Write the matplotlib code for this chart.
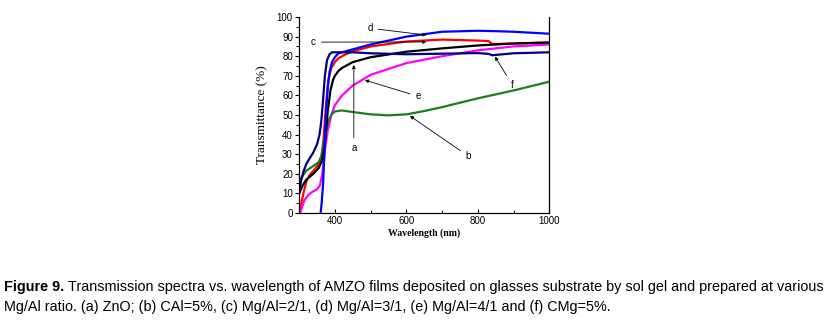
import matplotlib
matplotlib.use("Agg")
import matplotlib.pyplot as plt

plt.rcParams["font.family"] = ["Liberation Sans", "DejaVu Sans"]

# curves (wavelength nm, transmittance %)
a_wl = [300, 310, 320, 340, 355, 365, 372, 380, 388, 395, 400, 410, 420, 450, 500, 600, 700, 800, 900, 1000]
a_tr = [10, 14, 17, 20, 23, 27, 35, 52, 63, 68, 70, 72.5, 74, 77, 79.5, 82.3, 84, 85.5, 86.5, 87]

b_wl = [300, 310, 320, 340, 355, 362, 368, 375, 382, 390, 400, 420, 450, 500, 550, 600, 650, 700, 800, 900, 1000]
b_tr = [16, 19, 21.5, 24, 26, 29, 35, 42, 47, 50, 51.8, 52.3, 51.5, 50.3, 49.8, 50.3, 52, 54, 58.5, 62.5, 67]

c_wl = [300, 305, 312, 320, 330, 340, 355, 362, 368, 375, 382, 390, 400, 410, 430, 450, 500, 600, 700, 800, 830, 840, 900, 1000]
c_tr = [0, 4, 10, 16, 19.5, 21.5, 25, 28, 37, 55, 68, 74, 77, 79, 81, 82.5, 85, 87.5, 88.5, 88, 87.7, 86.2, 86.5, 87]

d_wl = [360, 363, 367, 371, 375, 380, 385, 392, 400, 410, 430, 450, 500, 600, 700, 800, 850, 900, 1000]
d_tr = [0, 5, 15, 32, 50, 64, 72, 77, 79.5, 81.5, 82.5, 83.5, 86, 90, 92.5, 93, 92.8, 92.5, 91.5]

e_wl = [303, 308, 315, 325, 335, 350, 358, 365, 372, 380, 390, 400, 420, 450, 500, 600, 700, 800, 900, 1000]
e_tr = [0, 3, 6.5, 9, 10.5, 12, 14, 20, 32, 42, 50, 55, 60, 65, 70.5, 76.5, 80, 83, 85, 86]

f_wl = [300, 305, 312, 320, 330, 340, 350, 357, 362, 367, 372, 378, 385, 392, 400, 450, 500, 600, 700, 800, 830, 840, 900, 1000]
f_tr = [10, 16, 21, 25, 28, 31, 35, 40, 47, 58, 70, 78, 81, 82, 82, 82, 81.5, 81, 81.3, 81.6, 81.2, 80.5, 81.5, 82]

# annotation labels: text, label position, arrow tip
notes = [
    ("a", (453, 33), (453, 75.5)),
    ("b", (773, 29), (610, 49.5)),
    ("c", (340, 87.2), (656, 87.3)),
    ("d", (498, 94.3), (656, 90.8)),
    ("e", (633, 59.5), (484, 67.8)),
    ("f", (896, 65.5), (848, 79.8)),
]

fig = plt.figure(figsize=(8.31, 3.22), dpi=100)
ax = fig.add_axes([0.36, 0.339, 0.301, 0.608])

ax.plot(c_wl, c_tr, color="#ff0000", lw=1.6)
ax.plot(e_wl, e_tr, color="#ff00ff", lw=1.6)
ax.plot(b_wl, b_tr, color="#1a7f1a", lw=1.6)
ax.plot(a_wl, a_tr, color="black", lw=1.6)
ax.plot(d_wl, d_tr, color="#0000ff", lw=1.6)
ax.plot(f_wl, f_tr, color="#000080", lw=1.6)

for txt, pos, tip in notes:
    ax.annotate(txt, xy=tip, xytext=pos, fontsize=7, ha="center", va="center",
                arrowprops=dict(arrowstyle="-|>", color="black", lw=0.6,
                                mutation_scale=5, shrinkA=2, shrinkB=0))

ax.set_xlim(300, 1000)
ax.set_ylim(0, 100)
ax.set_xticks([400, 600, 800, 1000])
ax.set_xticks([500, 700, 900], minor=True)
ax.set_yticks(range(0, 101, 10))
ax.set_yticks(range(5, 100, 10), minor=True)
ax.tick_params(axis="x", direction="in", labelsize=7, length=3, width=0.8, pad=2)
ax.tick_params(axis="x", which="minor", direction="in", length=2, width=0.7)
ax.tick_params(axis="y", direction="out", labelsize=7, length=3, width=0.8, pad=1.5)
ax.tick_params(axis="y", which="minor", direction="out", length=2, width=0.7)
ax.spines["top"].set_visible(False)
for s in ["left", "bottom", "right"]:
    ax.spines[s].set_linewidth(0.9)

ax.set_xlabel("Wavelength (nm)", family="Liberation Serif", fontweight="bold", fontsize=7, labelpad=2)
ax.set_ylabel("Transmittance (%)", family="Liberation Serif", fontsize=9.5, labelpad=6)

# caption: bold lead-in then regular text, sized to fill the width
cap_font = "Liberation Sans"
line1 = "Transmission spectra vs. wavelength of AMZO films deposited on glasses substrate by sol gel and prepared at various"
line2 = "Mg/Al ratio. (a) ZnO; (b) CAl=5%, (c) Mg/Al=2/1, (d) Mg/Al=3/1, (e) Mg/Al=4/1 and (f) CMg=5%."
x0 = 4
y1 = 1 - 287 / 322
y2 = 1 - 307 / 322

cap_size = 10
t1 = fig.text(x0 / 831, y1, "Figure 9.", family=cap_font, fontweight="bold",
              fontsize=cap_size, va="center", ha="left")
t2 = fig.text(0, y1, line1, family=cap_font, fontsize=cap_size, va="center", ha="left")
t3 = fig.text(x0 / 831, y2, line2, family=cap_font, fontsize=cap_size, va="center", ha="left")
for i in range(3):
    fig.canvas.draw()
    bb = t1.get_window_extent()
    t2.set_x((bb.x1 + 4) / fig.bbox.width)
    fig.canvas.draw()
    right = t2.get_window_extent().x1
    scale = (827 - x0) / (right - x0)
    cap_size = cap_size * scale
    for t in (t1, t2, t3):
        t.set_fontsize(cap_size)
fig.canvas.draw()
t2.set_x((t1.get_window_extent().x1 + 4) / fig.bbox.width)

fig.savefig("out.png", dpi=100)
